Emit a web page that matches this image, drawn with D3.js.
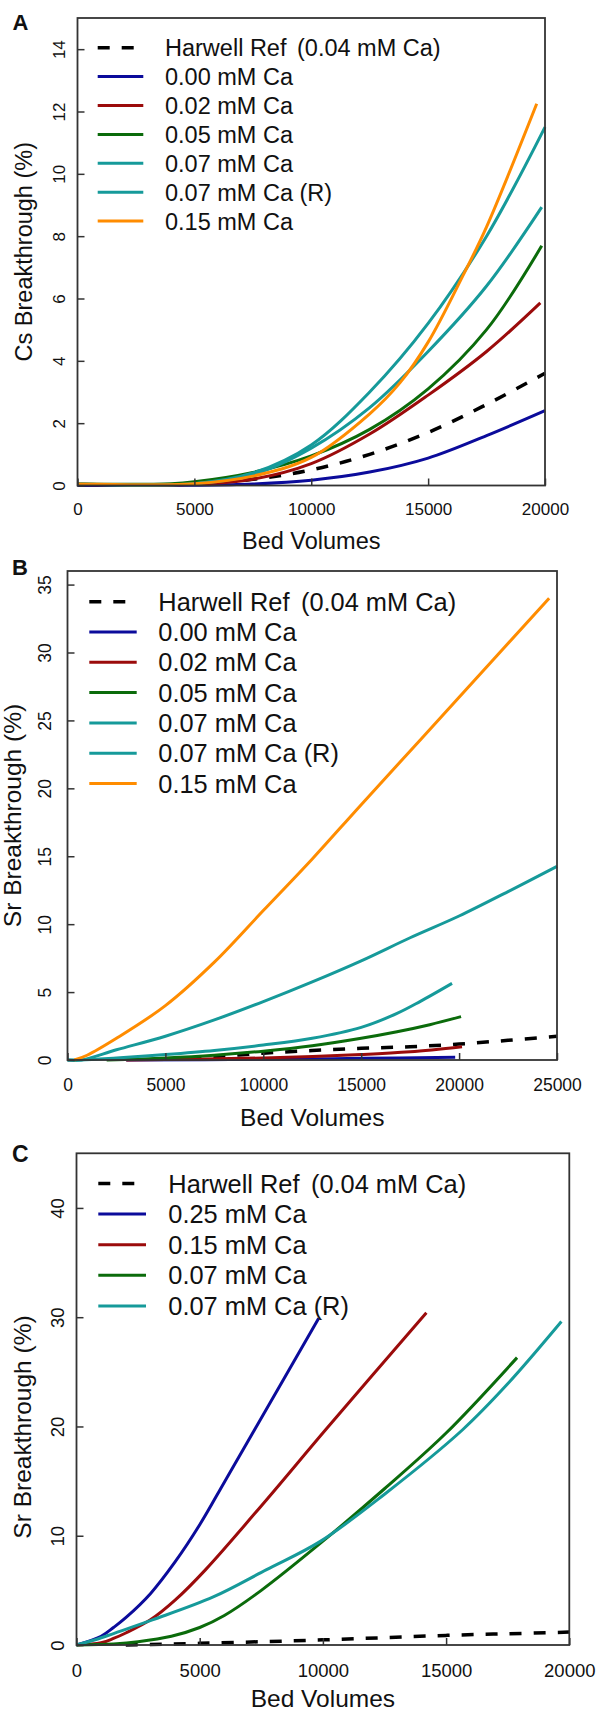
<!DOCTYPE html>
<html lang="en">
<head>
<meta charset="utf-8">
<title>Cs and Sr breakthrough vs bed volumes</title>
<script src="https://d3js.org/d3.v7.min.js"></script>
<style>
  body { margin: 0; background: #fff; }
  svg text { font-family: "Liberation Sans", Arial, sans-serif; fill: #111; }
  .frame { fill: none; stroke: #333; stroke-width: 1.8; }
  .curve { fill: none; stroke-linejoin: round; }
</style>
</head>
<body>
<script>
// ---------- Panel A : Cs breakthrough ----------
var ticksXA = [0, 5000, 10000, 15000, 20000];
var ticksYA = [0, 2, 4, 6, 8, 10, 12, 14];
var legendA = ["Harwell Ref (0.04 mM Ca)", "0.00 mM Ca", "0.02 mM Ca", "0.05 mM Ca",
               "0.07 mM Ca", "0.07 mM Ca (R)", "0.15 mM Ca"];
// [bed volumes, % breakthrough]
var harwellA = [[0,0.03],[5000,0.05],[7500,0.2],[10000,0.5],[12500,1.0],[15000,1.7],[17500,2.6],[20000,3.6]];
var ca000A   = [[0,0],[5000,0.01],[7500,0.05],[10000,0.17],[12500,0.43],[15000,0.88],[17500,1.6],[20000,2.4]];
var ca002A   = [[0,0.03],[5000,0.04],[7500,0.2],[10000,0.7],[12500,1.65],[15000,2.9],[17500,4.3],[19800,5.86]];
var ca005A   = [[0,0.05],[4000,0.06],[5000,0.12],[7500,0.42],[10000,0.95],[12500,1.8],[15000,3.1],[17500,5.0],[19860,7.69]];
var ca007A   = [[0,0.05],[5000,0.06],[7500,0.4],[10000,1.3],[12500,3.0],[15000,5.2],[17500,8.0],[20000,11.5]];
var ca007RA  = [[0,0.05],[5000,0.06],[7500,0.35],[10000,1.2],[12500,2.5],[15000,4.3],[17500,6.4],[19860,8.93]];
var ca015A   = [[0,0.05],[5000,0.06],[7500,0.3],[10000,0.9],[12500,2.3],[13800,3.3],[15000,4.6],[16500,6.75],[17500,8.3],[19645,12.25]];

// ---------- Panel B : Sr breakthrough ----------
var ticksXB = [0, 5000, 10000, 15000, 20000, 25000];
var ticksYB = [0, 5, 10, 15, 20, 25, 30, 35];
var legendB = ["Harwell Ref (0.04 mM Ca)", "0.00 mM Ca", "0.02 mM Ca", "0.05 mM Ca",
               "0.07 mM Ca", "0.07 mM Ca (R)", "0.15 mM Ca"];
var harwellB = [[5000,0.05],[7500,0.25],[10000,0.5],[12500,0.7],[15000,0.86],[17500,0.98],[20000,1.17],[22500,1.45],[25000,1.75]];
var ca000B   = [[3000,0],[10000,0.05],[15000,0.12],[19800,0.2]];
var ca002B   = [[3000,0],[10000,0.15],[15000,0.4],[17500,0.6],[20150,0.98]];
var ca005B   = [[2000,0],[5000,0.15],[7500,0.35],[10000,0.65],[12500,1.05],[15000,1.6],[16830,2.08],[18500,2.6],[20100,3.19]];
var ca007B   = [[0,0],[700,0],[2500,0.75],[5000,1.75],[7500,2.95],[10000,4.3],[12500,5.75],[15000,7.3],[17500,9.0],[20000,10.6],[22500,12.4],[25000,14.26]];
var ca007RB  = [[0,0],[700,0],[2500,0.15],[5000,0.4],[7500,0.7],[10000,1.1],[12500,1.6],[15000,2.4],[16830,3.43],[18000,4.3],[19640,5.64]];
var ca015B   = [[350,0],[1000,0.35],[2500,1.6],[5000,4.0],[7500,7.2],[10000,11.0],[12500,14.8],[15000,18.8],[20000,26.7],[24600,34.0]];

// ---------- Panel C : Sr breakthrough, higher Ca ----------
var ticksXC = [0, 5000, 10000, 15000, 20000];
var ticksYC = [0, 10, 20, 30, 40];
var legendC = ["Harwell Ref (0.04 mM Ca)", "0.25 mM Ca", "0.15 mM Ca", "0.07 mM Ca", "0.07 mM Ca (R)"];
var harwellC = [[2000,0],[3000,0.05],[5000,0.15],[7500,0.3],[10000,0.47],[12500,0.67],[15000,0.88],[17500,1.03],[20000,1.18]];
var ca025C   = [[0,0],[1000,0.8],[1500,1.6],[2000,2.5],[3000,4.7],[4000,7.6],[5000,11.0],[6000,14.9],[7250,19.8],[9830,29.9]];
var ca015C   = [[0,0],[1000,0.2],[1500,0.6],[2000,1.1],[3000,2.3],[4000,4.1],[5240,6.9],[7715,13.3],[10110,19.7],[14200,30.4]];
var ca007C   = [[0,0],[1500,0.1],[2500,0.3],[3850,0.8],[5000,1.6],[6000,2.7],[7500,5.0],[10000,9.5],[12500,14.3],[15000,19.4],[17880,26.3]];
var ca007RC  = [[0,0],[800,0.5],[1530,1.07],[3080,2.3],[5550,4.4],[7715,6.9],[9880,9.46],[12500,13.8],[15670,19.7],[17500,23.9],[19680,29.6]];

// colours
var black = "#000", blue = "#0b0b9b", red = "#9b0b0b", green = "#0b6b0b", teal = "#169a9a", orange = "#ff8c00";

var svg = d3.select("body").append("svg").attr("width", 597).attr("height", 1714);

function drawPanel(cfg) {
  var L = cfg.layout;
  var x = d3.scaleLinear().domain(cfg.xDomain).range([L.left, L.right]);
  var y = d3.scaleLinear().domain(cfg.yDomain).range([L.bottom, L.top]);
  var g = svg.append("g");

  var line = d3.line()
    .x(function (d) { return x(d[0]); })
    .y(function (d) { return Math.min(y(d[1]), L.bottom); })
    .curve(d3.curveCatmullRom.alpha(0.5));

  cfg.series.forEach(function (s, i) {
    g.append("path").datum(s).attr("class", "curve").attr("d", line)
      .attr("stroke", cfg.colors[i])
      .attr("stroke-width", i === 0 ? 3.5 : 3)
      .attr("stroke-dasharray", i === 0 ? "12,12" : null);
  });

  // x axis, ticks point inward
  var gx = g.append("g").attr("transform", "translate(0," + L.bottom + ")")
    .call(d3.axisBottom(x).tickValues(cfg.xTicks).tickSizeInner(-7).tickSizeOuter(0).tickFormat(d3.format("d")));
  gx.attr("font-family", null).attr("font-size", null);
  gx.select(".domain").remove();
  gx.selectAll("line").attr("stroke", "#333").attr("stroke-width", 1.5);
  gx.selectAll("text").attr("y", L.xLabelOff).attr("dy", null).attr("fill", "#111")
    .style("font-size", L.tickFont + "px");

  // y axis, labels rotated like base R
  var gy = g.append("g").attr("transform", "translate(" + L.left + ",0)")
    .call(d3.axisLeft(y).tickValues(cfg.yTicks).tickSizeInner(-7).tickSizeOuter(0));
  gy.attr("font-family", null).attr("font-size", null);
  gy.select(".domain").remove();
  gy.selectAll("line").attr("stroke", "#333").attr("stroke-width", 1.5);
  gy.selectAll("text").attr("x", null).attr("dy", null).attr("fill", "#111")
    .attr("text-anchor", "middle")
    .attr("transform", "translate(" + (-L.yLabelOff) + ",0) rotate(-90)")
    .style("font-size", L.tickFont + "px");

  g.append("rect").attr("class", "frame")
    .attr("x", L.left).attr("y", L.top)
    .attr("width", L.right - L.left).attr("height", L.bottom - L.top);

  // axis titles
  g.append("text").attr("x", (L.left + L.right) / 2).attr("y", L.xTitleY)
    .attr("text-anchor", "middle").style("font-size", L.titleFont + "px").text("Bed Volumes");
  g.append("text").attr("transform", "translate(" + L.yTitleX + "," + L.yTitleY + ") rotate(-90)")
    .attr("text-anchor", "middle").style("font-size", L.titleFont + "px").text(cfg.yTitle);

  // panel letter
  g.append("text").attr("x", L.letterX).attr("y", L.letterY)
    .style("font-size", L.letterFont + "px").style("font-weight", "bold").text(cfg.letter);

  // legend
  var lg = g.selectAll(".leg").data(cfg.legend).enter().append("g")
    .attr("transform", function (d, i) { return "translate(0," + (L.legY + i * L.legStep) + ")"; });
  lg.append("line").attr("x1", L.legX0).attr("x2", L.legX1)
    .attr("stroke", function (d, i) { return cfg.colors[i]; })
    .attr("stroke-width", function (d, i) { return i === 0 ? 3.5 : 3; })
    .attr("stroke-dasharray", function (d, i) { return i === 0 ? "12,12" : null; });
  lg.append("text").attr("x", L.legTextX).attr("y", 0.36 * L.legFont)
    .style("font-size", L.legFont + "px")
    .each(function (d) {
      var t = d3.select(this), k = d.indexOf(" (0.04");
      if (k < 0) { t.text(d); return; }
      t.append("tspan").text(d.slice(0, k));
      t.append("tspan").attr("dx", "0.45em").text(d.slice(k + 1));
    });
}

drawPanel({
  letter: "A", yTitle: "Cs Breakthrough (%)",
  xDomain: [0, 20000], yDomain: [0, 15], xTicks: ticksXA, yTicks: ticksYA,
  series: [harwellA, ca000A, ca002A, ca005A, ca007A, ca007RA, ca015A],
  colors: [black, blue, red, green, teal, teal, orange],
  legend: legendA,
  layout: { left: 77.5, right: 545, top: 18, bottom: 485.5, tickFont: 17, xLabelOff: 29.5, yLabelOff: 12.5,
            titleFont: 23.5, xTitleY: 549, yTitleX: 31.7, yTitleY: 251.7,
            legX0: 97.7, legX1: 143.3, legTextX: 165, legY: 47.7, legStep: 28.9, legFont: 23.5,
            letterX: 12.5, letterY: 30, letterFont: 22 }
});

drawPanel({
  letter: "B", yTitle: "Sr Breakthrough (%)",
  xDomain: [0, 25000], yDomain: [0, 36], xTicks: ticksXB, yTicks: ticksYB,
  series: [harwellB, ca000B, ca002B, ca005B, ca007B, ca007RB, ca015B],
  colors: [black, blue, red, green, teal, teal, orange],
  legend: legendB,
  layout: { left: 67.5, right: 557, top: 571, bottom: 1060, tickFont: 17.5, xLabelOff: 31, yLabelOff: 16.5,
            titleFont: 24.5, xTitleY: 1126, yTitleX: 21, yTitleY: 815.5,
            legX0: 89.3, legX1: 136.7, legTextX: 158.3, legY: 601.7, legStep: 30.3, legFont: 25.4,
            letterX: 12, letterY: 575, letterFont: 22 }
});

drawPanel({
  letter: "C", yTitle: "Sr Breakthrough (%)",
  xDomain: [0, 20000], yDomain: [0, 45], xTicks: ticksXC, yTicks: ticksYC,
  series: [harwellC, ca025C, ca015C, ca007C, ca007RC],
  colors: [black, blue, red, green, teal],
  legend: legendC,
  layout: { left: 76.5, right: 569.3, top: 1153.3, bottom: 1645, tickFont: 18.5, xLabelOff: 32, yLabelOff: 13,
            titleFont: 24.5, xTitleY: 1707, yTitleX: 31, yTitleY: 1427,
            legX0: 98.3, legX1: 146, legTextX: 168.3, legY: 1183.5, legStep: 30.6, legFont: 25.4,
            letterX: 12, letterY: 1161.5, letterFont: 23 }
});
</script>
</body>
</html>
